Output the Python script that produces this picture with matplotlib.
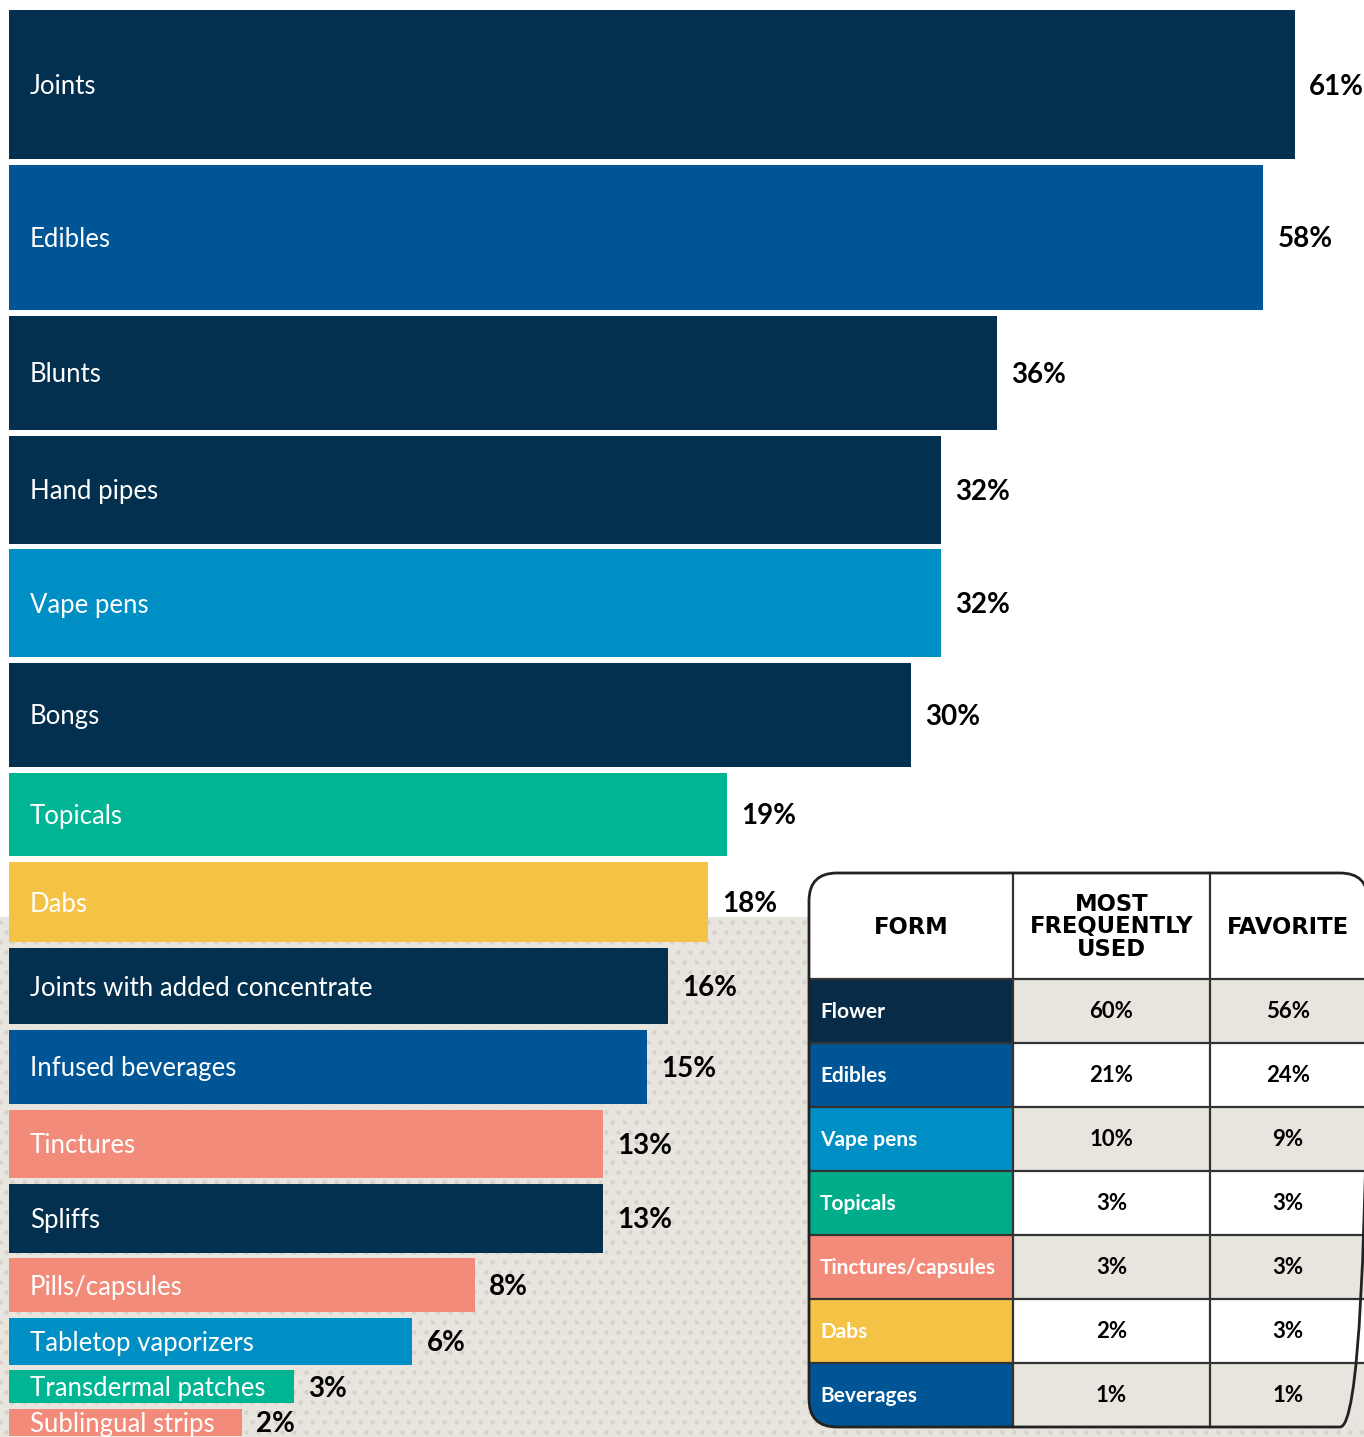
import numpy as np
import matplotlib.pyplot as plt
from matplotlib.patches import Rectangle, FancyBboxPatch

plt.rcParams['font.family'] = ['Lato', 'DejaVu Sans']

# forms used, share of consumers
forms = ["Joints", "Edibles", "Blunts", "Hand pipes", "Vape pens", "Bongs",
         "Topicals", "Dabs", "Joints with added concentrate", "Infused beverages",
         "Tinctures", "Spliffs", "Pills/capsules", "Tabletop vaporizers",
         "Transdermal patches", "Sublingual strips"]
shares = [61, 58, 36, 32, 32, 30, 19, 18, 16, 15, 13, 13, 8, 6, 3, 2]

NAVY = "#04304f"
BLUE = "#005596"
SKY = "#008fc4"
TEAL = "#00b593"
GOLD = "#f4c346"
SALMON = "#f38b7a"
bar_colors = [NAVY, BLUE, NAVY, NAVY, SKY, NAVY, TEAL, GOLD, NAVY, BLUE,
              SALMON, NAVY, SALMON, SKY, TEAL, SALMON]

# table: most frequently used vs favorite
tab_forms = ["Flower", "Edibles", "Vape pens", "Topicals", "Tinctures/capsules", "Dabs", "Beverages"]
most_used = ["60%", "21%", "10%", "3%", "3%", "2%", "1%"]
favorite = ["56%", "24%", "9%", "3%", "3%", "3%", "1%"]
tab_colors = ["#082b47", BLUE, SKY, "#00ad8a", SALMON, GOLD, BLUE]
headers = ["FORM", "MOST\nFREQUENTLY\nUSED", "FAVORITE"]

W, H = 1364, 1437
S = 164.7          # px per sqrt(percent)
K = 19.08 / S      # bar height per sqrt(percent)
GAP = 5.6 / S
BEIGE = "#e8e4de"

fig = plt.figure(figsize=(W / 100, H / 100), dpi=100)
fig.patch.set_facecolor("white")

# background texture (pixel coords)
bg = fig.add_axes([0, 0, 1, 1])
bg.set_xlim(0, W)
bg.set_ylim(H, 0)
bg.axis("off")
bg.add_patch(Rectangle((0, 917), W, H - 917, color=BEIGE, lw=0, zorder=0))
xs, ys = np.meshgrid(np.arange(0, W + 12, 12), np.arange(922, H + 12, 10))
xs = xs + (np.arange(xs.shape[0])[:, None] % 2) * 6
bg.scatter(xs.ravel(), ys.ravel(), s=10, color="#d6d1ca", lw=0, zorder=1)

# bars: width and height both scale with sqrt(share)
ax = fig.add_axes([0, 0, 1, 1])
ax.patch.set_alpha(0)
ax.set_xlim(-9 / S, (W - 9) / S)
ax.set_ylim(H / S, 0)
ax.axis("off")

root = np.sqrt(shares)
heights = K * root
tops = 10 / S + np.concatenate([[0], np.cumsum(heights + GAP)[:-1]])
centers = tops + heights / 2
ax.barh(centers, root, height=heights, left=0, color=bar_colors, zorder=2)
dy = 2 / S
for f, v, r, c in zip(forms, shares, root, centers):
    ax.text(21 / S, c + dy, f, color="white", fontsize=18.5, va="center", ha="left", zorder=3)
    ax.text(r + 14 / S, c + dy, f"{v}%", color="black", fontsize=20, fontweight="bold",
            va="center", ha="left", zorder=3)

# table (pixel coords)
tb = fig.add_axes([0, 0, 1, 1])
tb.patch.set_alpha(0)
tb.set_xlim(0, W)
tb.set_ylim(H, 0)
tb.axis("off")

x0, x1, x2, x3 = 809, 1013, 1210, 1368
y0, yh, rh = 873, 979, 64
nrow = len(tab_forms)
y_end = yh + rh * nrow
box = dict(boxstyle="round,pad=0,rounding_size=28")
frame = FancyBboxPatch((x0, y0), x3 - x0, y_end - y0, fc="white", ec="none", zorder=5, **box)
tb.add_patch(frame)

for i, (name, mu, fav, col) in enumerate(zip(tab_forms, most_used, favorite, tab_colors)):
    top = yh + i * rh
    fill = BEIGE if i % 2 == 0 else "white"
    r1 = Rectangle((x0, top), x1 - x0, rh, fc=col, ec="none", zorder=5.5)
    r2 = Rectangle((x1, top), x3 - x1, rh, fc=fill, ec="none", zorder=5.5)
    for r in (r1, r2):
        tb.add_patch(r)
        r.set_clip_path(frame)
    cy = top + rh / 2 + 1
    tb.text(x0 + 11, cy, name, color="white", fontsize=15,
            fontweight="bold", va="center", ha="left", zorder=7)
    tb.text((x1 + x2) / 2, cy, mu, fontsize=16, fontweight="bold",
            va="center", ha="center", zorder=7)
    tb.text((x2 + 1366) / 2, cy, fav, fontsize=16, fontweight="bold",
            va="center", ha="center", zorder=7)

# grid lines
for k in range(nrow):
    yy = yh + k * rh
    tb.plot([x0, x3], [yy, yy], color="#333333", lw=1.6, zorder=6)
for xx in (x1, x2):
    tb.plot([xx, xx], [y0, y_end], color="#333333", lw=1.6, zorder=6)
edge = FancyBboxPatch((x0, y0), x3 - x0, y_end - y0, fc="none", ec="#222222",
                      lw=2, zorder=6.5, **box)
tb.add_patch(edge)

hx = [(x0 + x1) / 2, (x1 + x2) / 2, (x2 + 1366) / 2]
for h, xc in zip(headers, hx):
    tb.text(xc, (y0 + yh) / 2 + 1, h, fontsize=16.3, fontweight="bold",
            family=["DejaVu Sans"], va="center", ha="center", linespacing=0.95, zorder=7)

fig.savefig("out.png", dpi=100)
